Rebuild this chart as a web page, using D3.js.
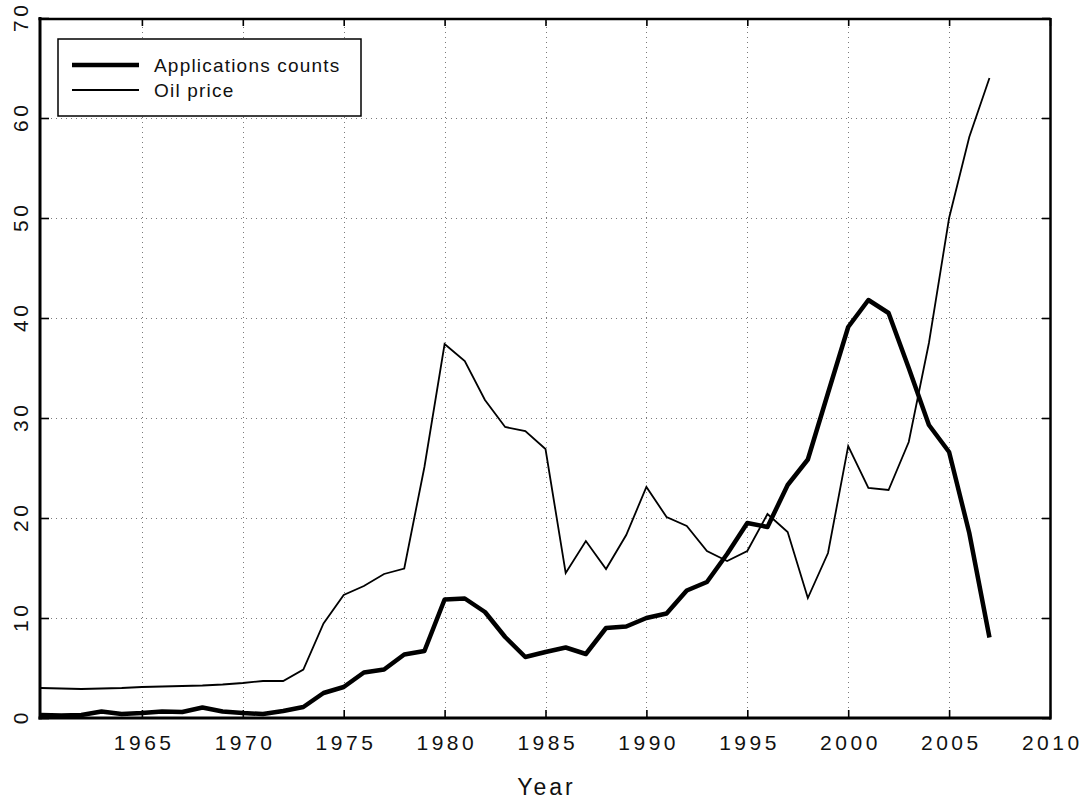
<!DOCTYPE html>
<html>
<head>
<meta charset="utf-8">
<script src="https://cdn.jsdelivr.net/npm/d3@7/dist/d3.min.js"></script>
<style>
  html, body { margin: 0; padding: 0; background: #fff; }
  svg { display: block; }
  text { font-family: "Liberation Sans", Arial, sans-serif; fill: #111; }
</style>
</head>
<body>
<svg id="chart" width="1085" height="802"></svg>
<script>
// Yearly series, 1960-2007
const years = [1960,1961,1962,1963,1964,1965,1966,1967,1968,1969,
               1970,1971,1972,1973,1974,1975,1976,1977,1978,1979,
               1980,1981,1982,1983,1984,1985,1986,1987,1988,1989,
               1990,1991,1992,1993,1994,1995,1996,1997,1998,1999,
               2000,2001,2002,2003,2004,2005,2006,2007];

const applicationsCounts = [0.3,0.25,0.3,0.65,0.4,0.5,0.65,0.6,1.05,0.65,
                            0.5,0.4,0.7,1.1,2.5,3.1,4.55,4.85,6.35,6.7,
                            11.85,11.95,10.6,8.1,6.1,6.6,7.05,6.4,9.0,9.15,
                            10.0,10.45,12.75,13.6,16.4,19.5,19.1,23.3,25.85,32.5,
                            39.1,41.8,40.5,35.0,29.3,26.6,18.5,8.05];

const oilPrice = [3.0,2.95,2.9,2.95,3.0,3.1,3.15,3.2,3.25,3.35,
                  3.5,3.7,3.7,4.85,9.45,12.3,13.2,14.4,14.95,25.1,
                  37.4,35.7,31.8,29.1,28.7,26.9,14.5,17.7,14.9,18.3,
                  23.1,20.1,19.2,16.7,15.7,16.7,20.4,18.6,12.0,16.5,
                  27.2,23.0,22.8,27.6,37.5,50.0,58.1,64.0];

const xTickValues = [1965,1970,1975,1980,1985,1990,1995,2000,2005,2010];
const yTickValues = [0,10,20,30,40,50,60,70];
const seriesNames = ["Applications counts", "Oil price"];
const xTitle = "Year";

const svg = d3.select("#chart");
const plotLeft = 41, plotRight = 1050, plotTop = 18, plotBottom = 718;

const x = d3.scaleLinear().domain([1960, 2010]).range([plotLeft, plotRight]);
const y = d3.scaleLinear().domain([0, 70]).range([plotBottom, plotTop]);

// Dotted grid
const grid = svg.append("g").attr("stroke", "#7a7a7a").attr("stroke-width", 1)
  .attr("stroke-dasharray", "1,4");
grid.selectAll("line.v").data(xTickValues.filter(v => v < 2010)).join("line")
  .attr("class", "v")
  .attr("x1", d => Math.round(x(d)) + 0.5).attr("x2", d => Math.round(x(d)) + 0.5)
  .attr("y1", plotBottom).attr("y2", plotTop);
grid.selectAll("line.h").data(yTickValues.filter(v => v > 0 && v < 70)).join("line")
  .attr("class", "h")
  .attr("y1", d => Math.round(y(d)) + 0.5).attr("y2", d => Math.round(y(d)) + 0.5)
  .attr("x1", plotLeft).attr("x2", plotRight);

// Axes with inward ticks
const fs = 21, ls = 3.5;
const xAxis = svg.append("g").attr("transform", `translate(0,${plotBottom})`)
  .call(d3.axisBottom(x).tickValues(xTickValues).tickSize(-8).tickPadding(17).tickFormat(d3.format("d")));
xAxis.selectAll("text").style("font-size", fs + "px").style("letter-spacing", ls + "px")
  .attr("dx", ls / 2);

svg.append("g").attr("transform", `translate(0,${plotTop})`)
  .call(d3.axisTop(x).tickValues(xTickValues).tickSize(-8).tickFormat(""));

svg.append("g").attr("transform", `translate(${plotRight},0)`)
  .call(d3.axisRight(y).tickValues(yTickValues).tickSize(-8).tickFormat(""));

const yAxis = svg.append("g").attr("transform", `translate(${plotLeft},0)`)
  .call(d3.axisLeft(y).tickValues(yTickValues).tickSize(-8).tickFormat(d3.format("d")));
yAxis.selectAll("text")
  .attr("x", null).attr("dy", null)
  .attr("text-anchor", "middle")
  .attr("transform", `translate(${28 - plotLeft},0) rotate(-90)`)
  .attr("dx", ls / 2)
  .style("font-size", fs + "px").style("letter-spacing", ls + "px");

svg.selectAll(".domain").remove();
svg.selectAll(".tick line").attr("stroke", "#000").attr("stroke-width", 1.6);

// Series
const line = d3.line().x((d, i) => x(years[i])).y(d => y(d));
svg.append("path").datum(oilPrice).attr("d", line)
  .attr("fill", "none").attr("stroke", "#000").attr("stroke-width", 1.8)
  .attr("stroke-linejoin", "miter");
svg.append("path").datum(applicationsCounts).attr("d", line)
  .attr("fill", "none").attr("stroke", "#000").attr("stroke-width", 4.5)
  .attr("stroke-linejoin", "round");

// Frame
const frame = svg.append("g").attr("stroke", "#000").attr("fill", "none");
frame.append("line").attr("x1", plotLeft - 1).attr("x2", plotLeft - 1).attr("y1", plotTop - 1).attr("y2", plotBottom + 1.5).attr("stroke-width", 3);
frame.append("line").attr("x1", plotLeft - 2.5).attr("x2", plotRight + 1).attr("y1", plotBottom).attr("y2", plotBottom).attr("stroke-width", 3);
frame.append("line").attr("x1", plotLeft - 2.5).attr("x2", plotRight + 1).attr("y1", plotTop + 1).attr("y2", plotTop + 1).attr("stroke-width", 2.5);
frame.append("line").attr("x1", plotRight + 0.5).attr("x2", plotRight + 0.5).attr("y1", plotTop).attr("y2", plotBottom + 1.5).attr("stroke-width", 2.5);

// X title
svg.append("text").attr("x", 545 + 1.5).attr("y", 795).attr("text-anchor", "middle")
  .style("font-size", "23px").style("letter-spacing", "3px").text(xTitle);

// Legend
const lg = svg.append("g");
lg.append("rect").attr("x", 58).attr("y", 39).attr("width", 303).attr("height", 77)
  .attr("fill", "#fff").attr("stroke", "#000").attr("stroke-width", 1.5);
const legendWidths = [4.5, 1.8];
seriesNames.forEach((name, i) => {
  const ly = 65 + i * 25;
  lg.append("line").attr("x1", 72).attr("x2", 139).attr("y1", ly).attr("y2", ly)
    .attr("stroke", "#000").attr("stroke-width", legendWidths[i]);
  lg.append("text").attr("x", 154).attr("y", ly + 7)
    .style("font-size", "19px").style("letter-spacing", "1.2px").text(name);
});
</script>
</body>
</html>
